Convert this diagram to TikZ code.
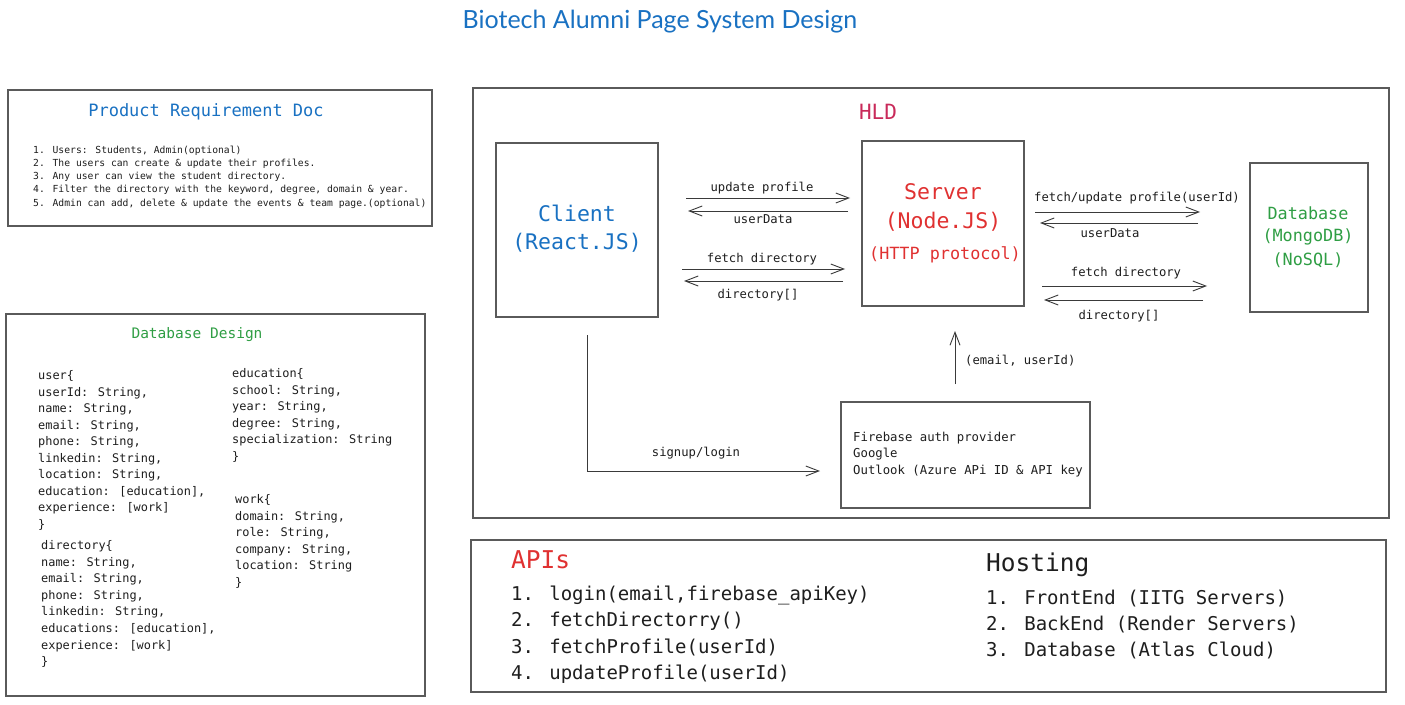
\documentclass[tikz,border=0pt]{standalone}
\usepackage{fontspec}
\setmainfont{Lato}
\newfontfamily\monof{DejaVu Sans Mono}
\usetikzlibrary{arrows.meta}
\definecolor{cblue}{HTML}{1971C2}
\definecolor{cred}{HTML}{E03131}
\definecolor{cgreen}{HTML}{2F9E44}
\definecolor{chld}{HTML}{C92A5A}
\definecolor{framegray}{HTML}{5A5A5A}
\definecolor{linegray}{HTML}{3A3A3A}
\definecolor{txt}{HTML}{1E1E1E}
\newcommand\codelines[6]{%
  \foreach \ln [count=\k from 0] in {#6} {\node[#5] (#1\k) at (#2,#3+#4*\k) {\ln};}}
\begin{document}
\begin{tikzpicture}[x=1pt,y=-1pt,
  frame/.style={draw=framegray, line width=1.1pt, inner sep=0pt, outer sep=0pt},
  link/.style={draw=linegray, line width=0.9pt, -{Straight Barb[length=13pt,width=10pt,line width=0.9pt]}},
  lbl/.style={font=\monof\fontsize{12.2}{14}\selectfont, text=txt, inner sep=0pt},
  prdline/.style={font=\monof\fontsize{9.7}{12}\selectfont, text=txt, anchor=base west, inner sep=0pt},
  dbline/.style={font=\monof\fontsize{11.9}{14}\selectfont, text=txt, anchor=base west, inner sep=0pt},
  fbline/.style={font=\monof\fontsize{12.3}{14}\selectfont, text=txt, anchor=base west, inner sep=0pt},
  apiline/.style={font=\monof\fontsize{19}{22}\selectfont, text=txt, anchor=base west, inner sep=0pt},
  bigtxt/.style={font=\monof\fontsize{21.5}{26}\selectfont, inner sep=0pt},
  midtxt/.style={font=\monof\fontsize{16.8}{20}\selectfont, inner sep=0pt}]
\useasboundingbox (0,0) rectangle (1405,704);
\fill[white] (0,0) rectangle (1405,704);

% Title
\node[font=\fontsize{25}{29}\selectfont, text=cblue, inner sep=0pt] (title) at (660,22) {Biotech Alumni Page System Design};

% Product Requirement Doc
\node[frame, minimum width=424, minimum height=136] (prd) at (220,158) {};
\node[font=\monof\fontsize{17}{20}\selectfont, text=cblue, inner sep=0pt] (prdtitle) at (206,112) {Product Requirement Doc};
\codelines{prd}{33}{153}{13.25}{prdline}{%
  {1. Users: Students, Admin(optional)},
  {2. The users can create \& update their profiles.},
  {3. Any user can view the student directory.},
  {4. Filter the directory with the keyword, degree, domain \& year.},
  {5. Admin can add, delete \& update the events \& team page.(optional)}}

% Database Design
\node[frame, minimum width=419, minimum height=382] (dbd) at (215.5,505) {};
\node[font=\monof\fontsize{14.5}{18}\selectfont, text=cgreen, inner sep=0pt] (dbdtitle) at (197,335) {Database Design};
\codelines{user}{38}{379.5}{16.5}{dbline}{%
  {user\{},{userId: String,},{name: String,},{email: String,},{phone: String,},
  {linkedin: String,},{location: String,},{education: [education],},{experience: [work]},{\}}}
\codelines{dir}{41}{549.5}{16.6}{dbline}{%
  {directory\{},{name: String,},{email: String,},{phone: String,},{linkedin: String,},
  {educations: [education],},{experience: [work]},{\}}}
\codelines{edu}{232}{377.5}{16.6}{dbline}{%
  {education\{},{school: String,},{year: String,},{degree: String,},{specialization: String},{\}}}
\codelines{work}{235}{503.5}{16.6}{dbline}{%
  {work\{},{domain: String,},{role: String,},{company: String,},{location: String},{\}}}

% HLD
\node[frame, minimum width=916, minimum height=430] (hld) at (931,303) {};
\node[font=\monof\fontsize{21}{24}\selectfont, text=chld, inner sep=0pt] (hldtitle) at (878,112) {HLD};

\node[frame, minimum width=162, minimum height=174] (client) at (577,230) {};
\node[bigtxt, text=cblue] (clienta) at (577,213) {Client};
\node[bigtxt, text=cblue] (clientb) at (577,243) {(React.JS)};

\node[frame, minimum width=162, minimum height=165] (server) at (943,223.5) {};
\node[bigtxt, text=cred] (servera) at (943,192) {Server};
\node[bigtxt, text=cred] (serverb) at (943,222) {(Node.JS)};
\node[midtxt, text=cred] (serverc) at (945,255) {(HTTP protocol)};

\node[frame, minimum width=118, minimum height=149] (db) at (1309,237.5) {};
\node[midtxt, text=cgreen] (dba) at (1308,213) {Database};
\node[midtxt, text=cgreen] (dbb) at (1308,237) {(MongoDB)};
\node[midtxt, text=cgreen] (dbc) at (1308,260) {(NoSQL)};

\node[frame, minimum width=249, minimum height=106] (fb) at (965.5,455) {};
\codelines{fbl}{853}{441}{16.5}{fbline}{%
  {Firebase auth provider},{Google},{Outlook (Azure APi ID \& API key}}

% client <-> server arrows
\coordinate (a1s) at (686,198); \coordinate (a1e) at (850,198);
\coordinate (a2s) at (848,211); \coordinate (a2e) at (688,211);
\coordinate (a3s) at (682,269); \coordinate (a3e) at (845,269);
\coordinate (a4s) at (843,281); \coordinate (a4e) at (684,281);
\draw[link] (a1s) -- (a1e);
\draw[link] (a2s) -- (a2e);
\draw[link] (a3s) -- (a3e);
\draw[link] (a4s) -- (a4e);
\node[lbl] (l1) at (762,188) {update profile};
\node[lbl] (l2) at (763,219) {userData};
\node[lbl] (l3) at (762,259) {fetch directory};
\node[lbl] (l4) at (758,295) {directory[]};

% server <-> database arrows
\coordinate (b1s) at (1035,212); \coordinate (b1e) at (1200,212);
\coordinate (b2s) at (1198,223); \coordinate (b2e) at (1040,223);
\coordinate (b3s) at (1042,286); \coordinate (b3e) at (1207,286);
\coordinate (b4s) at (1203,300); \coordinate (b4e) at (1044,300);
\draw[link] (b1s) -- (b1e);
\draw[link] (b2s) -- (b2e);
\draw[link] (b3s) -- (b3e);
\draw[link] (b4s) -- (b4e);
\node[lbl] (m1) at (1137,198) {fetch/update profile(userId)};
\node[lbl] (m2) at (1110,233) {userData};
\node[lbl] (m3) at (1126,273) {fetch directory};
\node[lbl] (m4) at (1119,316) {directory[]};

% signup/login
\coordinate (s1) at (587,335); \coordinate (s2) at (820,471);
\draw[link] (s1) |- (s2);
\node[lbl] (sl) at (696,453) {signup/login};

% firebase -> server
\coordinate (u1) at (955,384); \coordinate (u2) at (955,331);
\draw[link] (u1) -- (u2);
\node[lbl, anchor=west] (ul) at (965,361) {(email, userId)};

% APIs / Hosting
\node[frame, minimum width=915, minimum height=152] (api) at (928.5,616) {};
\node[font=\monof\fontsize{24.5}{28}\selectfont, text=cred, anchor=base west, inner sep=0pt] (apititle) at (511,568) {APIs};
\codelines{apil}{511}{600.5}{26.3}{apiline}{%
  {1. login(email,firebase\_apiKey)},{2. fetchDirectorry()},{3. fetchProfile(userId)},{4. updateProfile(userId)}}
\node[font=\monof\fontsize{24.5}{28}\selectfont, text=txt, anchor=base west, inner sep=0pt] (hosttitle) at (986,571) {Hosting};
\codelines{hostl}{986}{604}{26}{apiline}{%
  {1. FrontEnd (IITG Servers)},{2. BackEnd (Render Servers)},{3. Database (Atlas Cloud)}}
\end{tikzpicture}
\end{document}
